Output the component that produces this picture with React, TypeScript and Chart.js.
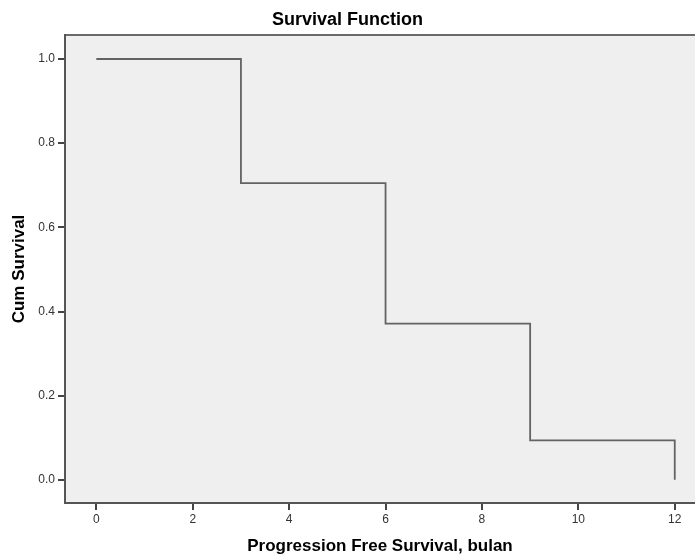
import React, { useEffect, useRef } from "react";
import { Chart, registerables } from "chart.js";

Chart.register(...registerables);

const months = [0, 3, 6, 9, 12];
const cumSurvival = [1.0, 0.705, 0.371, 0.094, 0.0];
const xTickValues = [0, 2, 4, 6, 8, 10, 12];
const xTickLabels = ["0", "2", "4", "6", "8", "10", "12"];
const yTickValues = [0, 0.2, 0.4, 0.6, 0.8, 1.0];
const yTickLabels = ["0.0", "0.2", "0.4", "0.6", "0.8", "1.0"];

const FONT = 'Arial, "Liberation Sans", Helvetica, sans-serif';

const bgPlugin = {
  id: "plotBg",
  beforeDraw(chart: any) {
    const { ctx, chartArea, width } = chart;
    ctx.save();
    ctx.fillStyle = "#efefef";
    ctx.fillRect(chartArea.left, chartArea.top, width - chartArea.left, chartArea.bottom - chartArea.top);
    ctx.strokeStyle = "#6a6a6a";
    ctx.lineWidth = 2;
    ctx.beginPath();
    ctx.moveTo(chartArea.left, chartArea.top);
    ctx.lineTo(width, chartArea.top);
    ctx.stroke();
    ctx.restore();
  },
};

export default function App() {
  const ref = useRef<HTMLCanvasElement | null>(null);
  useEffect(() => {
    if (!ref.current) return;
    const chart = new Chart(ref.current, {
      type: "line",
      data: {
        datasets: [
          {
            data: months.map((m, i) => ({ x: m, y: cumSurvival[i] })),
            stepped: "before",
            borderColor: "#636363",
            borderWidth: 1.8,
            pointRadius: 0,
            fill: false,
          },
        ],
      },
      options: {
        animation: false,
        responsive: false,
        devicePixelRatio: 1,
        layout: { padding: 0 },
        plugins: {
          legend: { display: false },
          tooltip: { enabled: false },
          title: {
            display: true,
            text: "Survival Function",
            color: "#000",
            font: { family: FONT, size: 18, weight: "bold" },
            padding: { top: 9.2, bottom: 4.2 },
          },
        },
        scales: {
          x: {
            type: "linear",
            min: -0.65,
            max: 12.42,
            afterBuildTicks: (s: any) => {
              s.ticks = xTickValues.map((v) => ({ value: v }));
            },
            afterFit: (s: any) => {
              s.height = 54;
            },
            ticks: {
              autoSkip: false,
              maxRotation: 0,
              color: "#333",
              padding: 2,
              font: { family: FONT, size: 12 },
              callback: (v: any) => {
                const i = xTickValues.indexOf(Number(v));
                return i >= 0 ? xTickLabels[i] : "";
              },
            },
            grid: { drawOnChartArea: false, drawTicks: true, tickLength: 7, color: "#444", lineWidth: 2 },
            border: { display: true, color: "#555", width: 2 },
            title: {
              display: true,
              text: "Progression Free Survival, bulan",
              color: "#000",
              font: { family: FONT, size: 17, weight: "bold" },
              padding: { top: 0, bottom: 0.8 },
            },
          },
          y: {
            type: "linear",
            min: -0.055,
            max: 1.057,
            afterBuildTicks: (s: any) => {
              s.ticks = yTickValues.map((v) => ({ value: v }));
            },
            afterFit: (s: any) => {
              s.width = 65;
            },
            ticks: {
              autoSkip: false,
              color: "#333",
              padding: 3,
              font: { family: FONT, size: 12 },
              callback: (v: any) => {
                const i = yTickValues.findIndex((t) => Math.abs(t - Number(v)) < 1e-9);
                return i >= 0 ? yTickLabels[i] : "";
              },
            },
            grid: { drawOnChartArea: false, drawTicks: true, tickLength: 7, color: "#444", lineWidth: 2 },
            border: { display: true, color: "#555", width: 2 },
            title: {
              display: true,
              text: "Cum Survival",
              color: "#000",
              font: { family: FONT, size: 17, weight: "bold" },
              padding: { top: 8.8, bottom: 0 },
            },
          },
        },
      },
      plugins: [bgPlugin],
    } as any);
    return () => chart.destroy();
  }, []);
  return (
    <div style={{ position: "fixed", left: 0, top: 0, width: 695, height: 557, background: "#fff" }}>
      <canvas ref={ref} width={695} height={557} style={{ display: "block" }} />
    </div>
  );
}
